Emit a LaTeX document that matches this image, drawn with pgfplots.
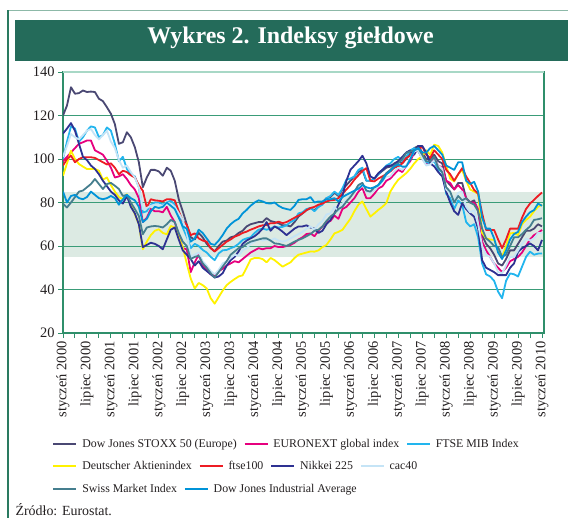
\documentclass[border=0pt]{standalone}
\usepackage{fontspec}
\setmainfont{Liberation Serif}
\usepackage{pgfplots}
\usepackage{pgfplotstable}
\pgfplotsset{compat=1.18}

\definecolor{cStoxx}{HTML}{4A4873}
\definecolor{cEuronext}{HTML}{E6007E}
\definecolor{cMib}{HTML}{22B5EE}
\definecolor{cDax}{HTML}{FFF200}
\definecolor{cFtse}{HTML}{ED1C24}
\definecolor{cNikkei}{HTML}{2E3192}
\definecolor{cCac}{HTML}{C5E4F6}
\definecolor{cSmi}{HTML}{457E8E}
\definecolor{cDjia}{HTML}{0093D8}
\definecolor{axGreen}{HTML}{2F8F6B}
\definecolor{gridGreen}{HTML}{3A9C78}
\definecolor{topGreen}{HTML}{A8D8C6}
\definecolor{bandGreen}{HTML}{DCEAE3}
\definecolor{titleGreen}{HTML}{246B5A}
\definecolor{frameLeft}{HTML}{2A7A60}
\definecolor{frameTop}{HTML}{8DB9A8}
\definecolor{txt}{HTML}{231F20}

% monthly index values, m = months since Jan 2000
\pgfplotstableread{
m S E M D F N C W J
0 120 99 100 92.3 97 111.7 101 79.5 85
1 124.6 101 108 98 100 114 106 77.7 80
2 133 103 115 103.8 101.5 116.5 111.5 80 83
3 130 105 114 100 98.5 113 110 82.5 83.5
4 130.3 107 108 97.7 100 107 109 85 82
5 131.5 107.7 110 96.5 100.8 101 111 85.5 81.5
6 130.8 108.5 113 95.4 100.8 99.5 113 87 82.5
7 131 108.5 115 95.4 100.8 97 113.8 88.5 85
8 130.8 104 114.5 95.4 100.5 95.4 111 90.8 83.5
9 127.7 103 110 94.6 99.5 93 109 88.5 82
10 126.6 102 111 90.5 98.5 90 111 86.2 81.5
11 123.8 99.2 114.5 91.5 97.5 87.5 113 88.5 82
12 120.8 96 113 88 98 85 108 89 83
13 116 91.5 107 85 96 83.5 105 87.7 82
14 107 92 99 82.5 93 81 99.5 86.2 79
15 107.7 93 101 81.5 94.6 79.5 96 83 81.5
16 112.3 90.8 95.4 83.8 94 83 97 83.5 83.5
17 110 88 93 79 92.5 78 94 80 82
18 105.4 86 92 74.6 91.5 75 91.5 77 81
19 98.5 82 87 70 88 70 87 73.8 78
20 87 71 75.4 58.5 85.4 59.5 77 65.4 71
21 91.5 73 76 62 77.7 60.5 77.5 68.5 72.5
22 95 77 79 65 81.5 61.5 78.5 69 76
23 95 76 80 67 81 61 79 69.2 78
24 94.3 76 80 67.7 80.8 60 79 69 77.5
25 92.3 75.5 79 66 80.5 58.5 78.5 68.5 78
26 96 78 80 65.4 81.5 63 80 70 80
27 94.6 74 80.8 69.2 81.5 67.5 79.5 72 78.5
28 90 71 79 68.5 81 68.5 78 71 77
29 81.5 65 74.6 64 76 63 75 66 73
30 76 59 68.5 59.5 71.5 58 72 62 69
31 70 58.5 64.3 52 69.7 56 66 60 68
32 64 48 59 45 65 54 55 54 62
33 63 52.5 61 40.5 65.8 51 56 55 63.5
34 66 56 60 43 63.5 53 57 55.5 67.5
35 64 51 58.2 42 62.5 50 53 52 66
36 61 49 57 40.5 62 48.5 51 50 63.5
37 59 47 55 36 59 47 48.5 47.5 61
38 57.5 46.5 53.5 33.5 57.5 45.5 47 45.5 60.5
39 60 48.5 56.6 36.5 59 46 49 48 62.5
40 62 49.5 58 39.5 60.5 47.5 52 50.5 65
41 62.5 51 58.2 42 62 51 53 53 68
42 64 52 59 43.5 63 53.5 54.5 56 70
43 64.5 53 59.7 44.8 64.3 55 56 57.5 71.5
44 66 52.5 61 46 65 57.5 55.5 59 72.5
45 67 54 62.8 46.5 66 61 58 59.5 75
46 69 55.5 63.5 50 66.6 62.5 59 61 76.6
47 70 57 64 53.8 67.5 63.5 61 62 78.5
48 70.5 58 66 54.5 68.2 64.5 62 62.5 80
49 71 59 67.5 54.5 69 66 63.5 63 81
50 71 58.5 68 54 69.5 68 62.5 63.5 80.5
51 72.8 59 67.5 52.5 69.7 71 63 63.5 79.7
52 71.5 59 68 54.5 70.5 67 62.5 62.5 79.5
53 71 60 69 53.5 70.5 69 63.5 61.2 80
54 70.5 59.5 68.5 52 71.2 68 62.5 61 78.5
55 69.5 59.5 68.8 50.5 70.5 66.6 62 60.5 77.5
56 69.5 60 69.5 51.5 71 65 62.5 60 77
57 69 60.5 71 52.5 72 66.5 63.5 61 76.6
58 71 61.5 72 54.5 73 68 64.5 62 78.5
59 73.5 63 75 56 74 69 65.5 62.8 81.2
60 75 64 75.5 56.5 75 69 66.5 63.5 81.5
61 76.5 65.5 77 57 76.5 69.5 68 64.5 81.5
62 77.4 65.8 77.5 57.5 77.5 68.5 69 65.5 82.5
63 76.5 64.5 76 57.4 78 68 67.5 67 80
64 78 67 78 58 79 66 70 67.5 80.5
65 80 69 79 59.5 79.5 67 71.5 69 80.5
66 82 71 82 60.5 80.5 70 74.5 71.5 81.5
67 82.5 71.5 83 63 81 72 75 73.5 81.5
68 84.5 74 85 65.8 81.2 75 78 75 82
69 83 72.5 83.5 66.5 82 79 76 77 80.5
70 86 77 86.5 67.4 84 83 79.5 78 82.5
71 88 78 90.5 70 86 90 81 80.5 83.5
72 90 80 91 72.5 88 95 83.5 82.5 84.5
73 92 82 92 76 90.5 97 85 85 85.4
74 94 85 95 79 92.5 99 88 88 86.3
75 95 86.6 96 80.5 94.5 101.5 89 89 88
76 90 82 90 77 95.8 98 85 85.5 87
77 90 82 90 73.5 90 92 84.5 85 86.5
78 91 84 91 75 89.7 91 85.5 87 87
79 93 86.5 93 76.6 91 93.5 87.5 88 88
80 94.5 87.4 95 78 92 95 89.5 91 90
81 96 90 97 79.7 93 96.6 92 93.5 93
82 96.5 91 98 85 94.3 97 92 95 94.5
83 98 93 100 88 96 97.4 94.5 97 96.5
84 99 95 101 90.5 96.6 99 96 98 97.5
85 98 94 99 92 98 101 95 100 96.5
86 100 97 101 93.5 100.5 103 97 102.8 96.5
87 103 99 104 95.5 101.5 104 100.5 103.5 100
88 105 103 105 98 103.5 102 103.5 104 104
89 106 104 103.5 100 104 106 104 105 105
90 103 100 101 101.2 105.8 106 100 102 103
91 100 98 98.5 104 102 103 97 99 103
92 100 98 98 102 100.5 98 97.5 99 105
93 102 100 99 106.6 104 96.6 99.5 101 106
94 99 97 95 106 102 94 97 96 104
95 98 96 94 103 100 92 95.5 94 102
96 90 90 84 97 95 85 86 87 97
97 88 89 82 91 93 80 84 85 96
98 86 86 77 89.7 90 76 81 80 95
99 89 88 81 93 93 74.3 84.5 83 98.5
100 89 86 79 95 95.8 79.7 85 81 98.5
101 82 82 71 90 92 77 78 82 90
102 80 80 69 86 89 75 75.5 80 88.5
103 81 80 70 85 85.8 73.5 76.5 79 89.5
104 76 77 64 84 84 68 70 76 85
105 65 62 52 66 75 53.5 60 68 73
106 61 58 47 63.5 67.4 50 56 63.5 68
107 59 55 46 63 67.4 49 55 62 68
108 56 52 44 62.8 67.4 48 52 60 63.5
109 52 50 39 58 63 46.6 48 59.5 57
110 51 48 36 55 59 46.6 47.5 55 54
111 54 50 44 60 63 46.6 51 56 58
112 58 53 47.4 65.8 68 50 55 60 63
113 58 54 47 66 68 52 55 64 65.5
114 61 55 46 65 68 57.4 58 64 66.5
115 64 57 50.5 70 73 59 61 65.5 71
116 67 60 55 72 77 60 63.5 67.4 73.5
117 67 63 57.4 73.5 79.5 61.2 62.5 69 75.5
118 68 65 56 76 81.2 60 63.5 72 76.5
119 70 66 56.5 78 83 58 66 72.3 79.5
120 69 67.4 56.6 79 84.6 62.8 66 72.8 78.5
}\idx

\pgfplotsset{
  legaxis/.style={
    at={(63bp,-333bp)}, anchor=south west,
    scale only axis, width=481bp, height=261bp,
    hide axis, xmin=0, xmax=1, ymin=0, ymax=1,
    legend columns=-1,
    legend image code/.code={\draw[##1, line width=2.6bp] (0bp,0bp) -- (23bp,0bp);},
    legend style={anchor=west, draw=none, fill=none, inner sep=0pt,
      text=txt, font=\fontsize{11.9}{14}\selectfont,
      cells={anchor=west}, nodes={inner sep=0.5bp},
      /tikz/every odd column/.append style={column sep=4bp},
      /tikz/every even column/.append style={column sep=6bp}},
  }
}

\begin{document}
\begin{tikzpicture}
\draw[frameTop, line width=1.5bp] (8bp,-10.5bp) -- (568bp,-10.5bp);
\draw[frameLeft, line width=1.5bp] (8bp,-10bp) -- (8bp,-518bp);
\fill[titleGreen] (15bp,-20bp) rectangle (568bp,-61bp);
\node[anchor=base, text=white, font=\bfseries\fontsize{24}{28}\selectfont] at (290.5bp,-43bp) {Wykres 2. Indeksy giełdowe};
\node[anchor=base west, text=txt, font=\fontsize{14}{16}\selectfont] at (12bp,-515bp) {Źródło: Eurostat.};

\begin{axis}[
  name=main,
  at={(63bp,-333bp)}, anchor=south west,
  scale only axis, width=481bp, height=261bp,
  xmin=0, xmax=120.5, ymin=20, ymax=140,
  ytick={20,40,...,140},
  xtick={0,3,...,120},
  xticklabels={{styczeń 2000},{},{lipiec 2000},{},{styczeń 2001},{},{lipiec 2001},{},{styczeń 2002},{},{lipiec 2002},{},{styczeń 2003},{},{lipiec 2003},{},{styczeń 2004},{},{lipiec 2004},{},{styczeń 2005},{},{lipiec 2005},{},{styczeń 2006},{},{lipiec 2006},{},{styczeń 2007},{},{lipiec 2007},{},{styczeń 2008},{},{lipiec 2008},{},{styczeń 2009},{},{lipiec 2009},{},{styczeń 2010}},
  tick pos=left, tick align=outside,
  major tick length=5bp,
  tick style={axGreen, line width=1bp},
  axis line style={axGreen, line width=1.2bp},
  ymajorgrids, major grid style={gridGreen, line width=1bp},
  set layers,
  /pgf/number format/assume math mode=true,
  yticklabel style={font=\fontsize{14.5}{16}\selectfont, text=txt},
  xticklabel style={rotate=90, anchor=east, font=\fontsize{14.5}{16}\selectfont, text=txt},
  every axis plot/.append style={line width=1.8bp, line join=round},
]
\addplot[draw=none, fill=bandGreen, on layer=axis background] coordinates {(0,55) (120.5,55) (120.5,85) (0,85)} -- cycle;
\addplot[cStoxx] table[x=m, y=S] {\idx};
\addplot[cEuronext] table[x=m, y=E] {\idx};
\addplot[cMib] table[x=m, y=M] {\idx};
\addplot[cDax] table[x=m, y=D] {\idx};
\addplot[cFtse] table[x=m, y=F] {\idx};
\addplot[cNikkei] table[x=m, y=N] {\idx};
\addplot[cCac] table[x=m, y=C] {\idx};
\addplot[cSmi] table[x=m, y=W] {\idx};
\addplot[cDjia] table[x=m, y=J] {\idx};
\end{axis}
\draw[topGreen, line width=2bp] (main.north west) -- (main.north east);

\begin{axis}[legaxis, legend style={at={(-0.0229,-0.4253)}}]
\addplot[draw=none, forget plot] coordinates {(0,0) (1,1)};
\addlegendimage{cStoxx}\addlegendentry{Dow Jones STOXX 50 (Europe)}
\addlegendimage{cEuronext}\addlegendentry{EURONEXT global index}
\addlegendimage{cMib}\addlegendentry{FTSE MIB Index}
\end{axis}
\begin{axis}[legaxis, legend style={at={(-0.0229,-0.5096)}}]
\addplot[draw=none, forget plot] coordinates {(0,0) (1,1)};
\addlegendimage{cDax}\addlegendentry{Deutscher Aktienindex}
\addlegendimage{cFtse}\addlegendentry{ftse100}
\addlegendimage{cNikkei}\addlegendentry{Nikkei 225}
\addlegendimage{cCac}\addlegendentry{cac40}
\end{axis}
\begin{axis}[legaxis, legend style={at={(-0.0229,-0.5977)}}]
\addplot[draw=none, forget plot] coordinates {(0,0) (1,1)};
\addlegendimage{cSmi}\addlegendentry{Swiss Market Index}
\addlegendimage{cDjia}\addlegendentry{Dow Jones Industrial Average}
\end{axis}
\pgfresetboundingbox
\useasboundingbox (0bp,0bp) rectangle (568bp,-518bp);
\end{tikzpicture}
\end{document}
